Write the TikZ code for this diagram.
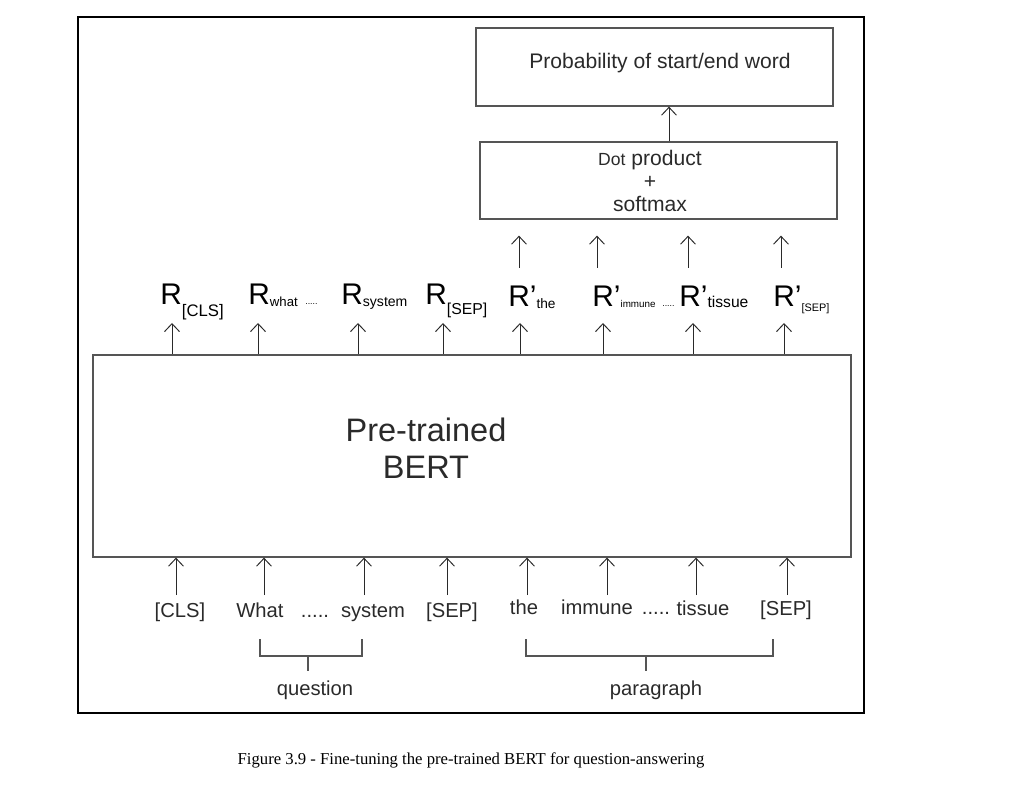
\documentclass[tikz,border=0pt]{standalone}
\usepackage{fontspec}
\setmainfont{Liberation Sans}
\newfontfamily\capfont{Liberation Serif}
\usetikzlibrary{arrows.meta,calc}
\definecolor{boxgray}{HTML}{555555}
\definecolor{inkgray}{HTML}{2a2a2a}
\newcommand{\fs}[1]{\fontsize{#1}{#1}\selectfont}
% R label: prime, sub size, sub drop (pt), sub text
\newcommand{\rlab}[4]{{\fs{17}R#1}\raisebox{-#3pt}{\fs{#2}#4}}

\begin{document}
\begin{tikzpicture}[x=0.02cm,y=-0.02cm,
  box/.style={draw=boxgray,line width=0.75pt,inner sep=0},
  arr/.style={draw=inkgray,line width=0.55pt,-{Straight Barb[length=4.5pt,width=8.5pt]}},
  brk/.style={draw=boxgray,line width=0.8pt},
  tok/.style={anchor=base,inner sep=0,font=\fs{11.5},text=inkgray},
  rl/.style={anchor=base west,inner sep=0,text=black}]
  \useasboundingbox (0,0) rectangle (1017,800);
  \draw[line width=1.4pt] (78,17) rectangle (864,713);

  % boxes
  \node[box,minimum width=7.14cm,minimum height=1.56cm] (prob) at (654.5,67) {};
  \node[font=\fs{12},text=inkgray] (problab) at (660,63) {Probability of start/end word};
  \node[box,minimum width=7.14cm,minimum height=1.54cm] (dot) at (658.5,180.5) {};
  \node[font=\fontsize{12}{13}\selectfont,align=center,text=inkgray] (dotlab) at (650,181)
    {{\fs{10}Dot} product\\+\\softmax};
  \draw[arr] (dot.north -| 669,0) -- (prob.south -| 669,0);
  \node[box,minimum width=15.16cm,minimum height=4.04cm] (bert) at (472,456) {};
  \node[font=\fontsize{18.5}{21}\selectfont,align=center,text=inkgray] (bertlab) at (426,448)
    {Pre-trained\\BERT};

  % output labels
  \node[rl] (r1) at (160,305) {\rlab{}{9.5}{6.8}{[CLS]}};
  \node[rl] (r2) at (248,305) {\rlab{}{7.5}{0.8}{what}};
  \node[rl] (d1) at (305,305) {\fs{5}.....};
  \node[rl] (r3) at (341,305) {\rlab{}{8}{0.8}{system}};
  \node[rl] (r4) at (425,305) {\rlab{}{9}{5.5}{[SEP]}};
  \node[rl] (r5) at (508,307) {\rlab{’}{7.8}{1}{the}};
  \node[rl] (r6) at (592,307) {\rlab{’}{5.6}{0.3}{immune}};
  \node[rl] (d2) at (662,307) {\fs{5}.....};
  \node[rl] (r7) at (679,307) {\rlab{’}{8.9}{0.3}{tissue}};
  \node[rl] (r8) at (773,307) {\rlab{’}{6.2}{2.8}{[SEP]}};

  \foreach \n/\x in {1/172,2/258,3/358,4/443,5/520,6/603,7/693,8/784} {
    \coordinate (out\n) at (\x,323);
    \draw[arr] (bert.north -| out\n) -- (out\n);
  }
  \foreach \n/\x in {5/519,6/597,7/688,8/781} {
    \coordinate (up\n) at (\x,268);
    \draw[arr,shorten >=0.32cm] (up\n) -- (up\n |- dot.south);
  }

  % input tokens
  \node[tok] (t1) at (180,617) {[CLS]};
  \node[tok] (t2) at (260,617) {What};
  \node[tok] (t3) at (315,617) {.....};
  \node[tok] (t4) at (373,617) {system};
  \node[tok] (t5) at (452,617) {[SEP]};
  \node[tok] (t6) at (524,614) {the};
  \node[tok] (t7) at (597,614) {immune};
  \node[tok] (t8) at (656,614) {.....};
  \node[tok] (t9) at (703,615) {tissue};
  \node[tok] (t10) at (786,615) {[SEP]};

  \foreach \n/\x in {1/176,2/264,3/364,4/447,5/527,6/607,7/696,8/787} {
    \coordinate (in\n) at (\x,595);
    \draw[arr] (in\n) -- (in\n |- bert.south);
  }

  % brackets
  \node[tok,font=\fs{11.5}] (qlab) at (315,695) {question};
  \node[tok,font=\fs{11.5}] (plab) at (656,695) {paragraph};
  \draw[brk] (260,639) -- (260,656) -- (362,656) -- (362,639);
  \draw[brk] (308,656) -- (308,671);
  \draw[brk] (526,639) -- (526,656) -- (773,656) -- (773,639);
  \draw[brk] (646,656) -- (646,671);

  \node[font=\capfont\fs{9.5}] (cap) at (471,760)
    {Figure 3.9 - Fine-tuning the pre-trained BERT for question-answering};
\end{tikzpicture}
\end{document}
